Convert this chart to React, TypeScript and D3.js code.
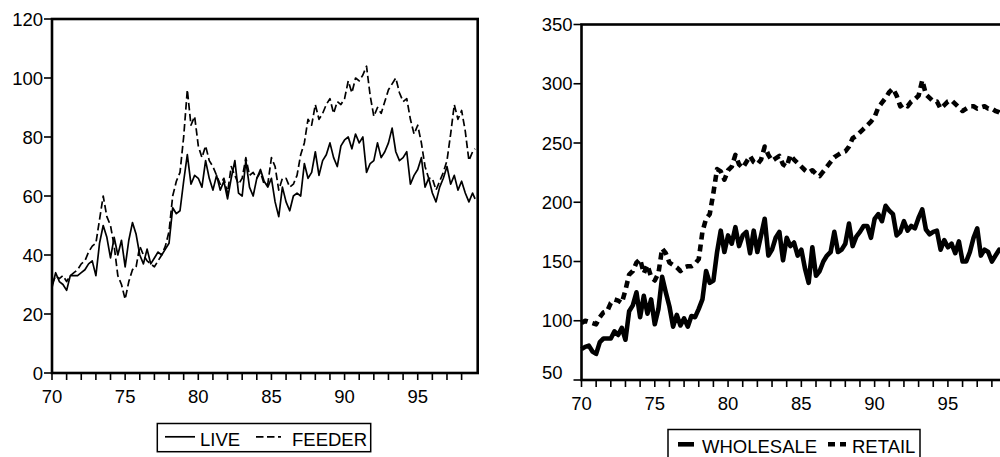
import { useEffect, useRef } from "react"
import * as d3 from "d3"

// quarterly readings, 1970Q1 .. 1998Q4, plus the last month of 1998
const quarters = d3.range(116).map((i) => 70 + i * 0.25).concat([98.92])

const live = [
  29, 34, 31, 30, 28, 33, 33, 33, 34, 35, 37, 38, 33, 44, 50, 46,
  39, 46, 40, 45, 36, 45, 51, 47, 40, 37, 42, 37, 39, 41, 40, 42,
  44, 56, 54, 55, 65, 74, 64, 67, 66, 63, 72, 66, 62, 67, 62, 65,
  59, 66, 72, 61, 60, 72, 63, 60, 66, 69, 65, 63, 66, 58, 53, 63,
  58, 55, 60, 61, 60, 71, 66, 68, 75, 67, 72, 74, 78, 73, 70, 77,
  79, 80, 76, 81, 78, 80, 68, 71, 72, 78, 73, 75, 78, 83, 75, 72,
  73, 75, 64, 67, 69, 73, 63, 66, 61, 58, 63, 66, 70, 64, 67, 62,
  65, 61, 58, 61, 59,
]

const feeder = [
  30, 33, 32, 33, 31, 33, 34, 35, 37, 38, 41, 43, 44, 52, 60, 53,
  50, 43, 33, 30, 25, 31, 35, 36, 43, 40, 38, 37, 36, 38, 40, 43,
  48, 60, 65, 68, 80, 96, 84, 87, 77, 73, 77, 72, 70, 67, 64, 66,
  61, 70, 67, 64, 66, 73, 67, 68, 66, 68, 64, 64, 73, 70, 62, 66,
  66, 63, 64, 67, 74, 78, 86, 84, 91, 86, 88, 91, 93, 88, 92, 91,
  93, 99, 95, 100, 99, 101, 104, 94, 87, 90, 88, 92, 96, 98, 100, 95,
  92, 93, 86, 81, 84, 78, 70, 66, 66, 62, 65, 68, 72, 81, 91, 86,
  89, 82, 72, 75, 76,
]

const wholesale = [
  76, 78, 79, 74, 72, 82, 85, 85, 85, 91, 88, 94, 84, 108, 113, 124,
  103, 121, 106, 118, 97, 110, 137, 124, 112, 95, 105, 96, 102, 95, 104, 103,
  110, 118, 142, 132, 134, 158, 176, 158, 172, 165, 179, 163, 172, 175, 157, 176,
  158, 172, 186, 155, 160, 170, 175, 151, 170, 163, 166, 155, 160, 144, 132, 162,
  138, 142, 150, 155, 158, 175, 158, 160, 165, 182, 163, 171, 175, 180, 180, 170,
  186, 190, 184, 197, 193, 190, 172, 175, 184, 176, 180, 178, 187, 194, 177, 173,
  175, 176, 160, 168, 162, 165, 157, 167, 150, 150, 158, 170, 178, 155, 160, 158,
  150, 155, 160, 158, 160,
]

const retail = [
  98, 100, 99, 98, 97, 103, 107, 108, 115, 118, 117, 115, 126, 139, 142, 149,
  152, 140, 147, 137, 134, 140, 161, 157, 149, 147, 145, 142, 145, 146, 146, 148,
  152, 175, 186, 190, 208, 228, 226, 219, 227, 230, 240, 232, 229, 234, 239, 234,
  232, 236, 247, 240, 235, 237, 239, 232, 230, 240, 236, 233, 230, 227, 225, 227,
  224, 222, 226, 230, 234, 238, 240, 242, 243, 247, 254, 256, 259, 262, 265, 268,
  272, 280, 284, 288, 293, 296, 290, 281, 283, 281, 285, 287, 290, 303, 291, 288,
  285, 285, 279, 282, 285, 286, 283, 280, 277, 279, 281, 281, 279, 280, 281, 279,
  279, 277, 276, 274, 273,
]

const xMajorTicks = [70, 75, 80, 85, 90, 95]
const xMinorTicks = d3.range(70, 99)
const leftYTicks = [0, 20, 40, 60, 80, 100, 120]
const rightYTicks = [50, 100, 150, 200, 250, 300, 350]

const FONT = "'Liberation Sans', Arial, sans-serif"

function drawPanel(svg, p) {
  const x = d3.scaleLinear().domain([70, 99.1]).range([p.left, p.right])
  const y = d3.scaleLinear().domain(p.yDomain).range([p.bottom, p.top])
  const g = svg.append("g")

  // series
  p.series.forEach((s) => {
    const line = d3
      .line()
      .x((d, i) => x(quarters[i]))
      .y((d) => y(d))
    g.append("path")
      .datum(s.values)
      .attr("fill", "none")
      .attr("stroke", "#000")
      .attr("stroke-width", s.width)
      .attr("stroke-linejoin", "round")
      .attr("stroke-dasharray", s.dash || null)
      .attr("d", line)
  })

  // frame
  g.append("rect")
    .attr("x", p.left)
    .attr("y", p.top)
    .attr("width", p.right - p.left)
    .attr("height", p.bottom - p.top)
    .attr("fill", "none")
    .attr("stroke", "#000")
    .attr("stroke-width", 2.6)

  // x ticks (every year), labels every 5 years
  g.selectAll(".xt")
    .data(xMinorTicks)
    .join("line")
    .attr("x1", (d) => x(d))
    .attr("x2", (d) => x(d))
    .attr("y1", p.bottom)
    .attr("y2", p.bottom + 7)
    .attr("stroke", "#000")
    .attr("stroke-width", 1.6)

  g.selectAll(".xl")
    .data(xMajorTicks)
    .join("text")
    .attr("x", (d) => x(d))
    .attr("y", p.bottom + 30)
    .attr("text-anchor", "middle")
    .style("font-family", FONT)
    .style("font-size", "18.5px")
    .text((d) => d)

  // y ticks
  g.selectAll(".yt")
    .data(p.yTicks)
    .join("line")
    .attr("x1", p.left - 8)
    .attr("x2", p.left)
    .attr("y1", (d) => y(d))
    .attr("y2", (d) => y(d))
    .attr("stroke", "#000")
    .attr("stroke-width", 1.6)

  g.selectAll(".yl")
    .data(p.yTicks)
    .join("text")
    .attr("x", (d, i) => (i === 0 && p.liftFirst ? p.left - 39.5 : p.left - 9))
    .attr("y", (d, i) => y(d) + (i === 0 && p.liftFirst ? -8 : 0))
    .attr("dy", "0.36em")
    .attr("text-anchor", (d, i) => (i === 0 && p.liftFirst ? "start" : "end"))
    .style("font-family", FONT)
    .style("font-size", "18.5px")
    .text((d) => d)

  // legend
  const lg = p.legend
  g.append("rect")
    .attr("x", lg.x)
    .attr("y", lg.y)
    .attr("width", lg.w)
    .attr("height", lg.h)
    .attr("fill", "#fff")
    .attr("stroke", "#000")
    .attr("stroke-width", 1.5)

  lg.items.forEach((it, i) => {
    const s = p.series[i]
    g.append("line")
      .attr("x1", it.x1)
      .attr("x2", it.x2)
      .attr("y1", lg.lineY)
      .attr("y2", lg.lineY)
      .attr("stroke", "#000")
      .attr("stroke-width", s.width)
      .attr("stroke-dasharray", s.dash || null)
    g.append("text")
      .attr("x", it.tx)
      .attr("y", lg.textY)
      .style("font-family", FONT)
      .style("font-size", "18.5px")
      .text(it.label)
  })
}

export default function App() {
  const svgRef = useRef(null)

  useEffect(() => {
    const svg = d3.select(svgRef.current)
    svg.selectAll("*").remove()

    drawPanel(svg, {
      left: 52,
      right: 477.7,
      top: 19,
      bottom: 373,
      yDomain: [0, 120],
      yTicks: leftYTicks,
      series: [
        { values: live, width: 1.7 },
        { values: feeder, width: 1.7, dash: "7.5,3.5" },
      ],
      legend: {
        x: 157.3,
        y: 423.5,
        w: 213.4,
        h: 28.2,
        lineY: 436.8,
        textY: 446,
        items: [
          { label: "LIVE", x1: 165, x2: 195, tx: 200 },
          { label: "FEEDER", x1: 256, x2: 281, tx: 292 },
        ],
      },
    })

    drawPanel(svg, {
      left: 581.5,
      right: 1008,
      top: 24.5,
      bottom: 380,
      yDomain: [50, 350],
      yTicks: rightYTicks,
      liftFirst: true,
      series: [
        { values: wholesale, width: 4.6 },
        { values: retail, width: 4.6, dash: "7,5" },
      ],
      legend: {
        x: 668,
        y: 429.5,
        w: 252,
        h: 40,
        lineY: 444.3,
        textY: 453,
        items: [
          { label: "WHOLESALE", x1: 678, x2: 694, tx: 702 },
          { label: "RETAIL", x1: 828, x2: 846, tx: 852 },
        ],
      },
    })
  }, [])

  return (
    <svg
      ref={svgRef}
      width={1000}
      height={457}
      style={{ position: "absolute", left: 0, top: 0, background: "#fff" }}
    ></svg>
  )
}
